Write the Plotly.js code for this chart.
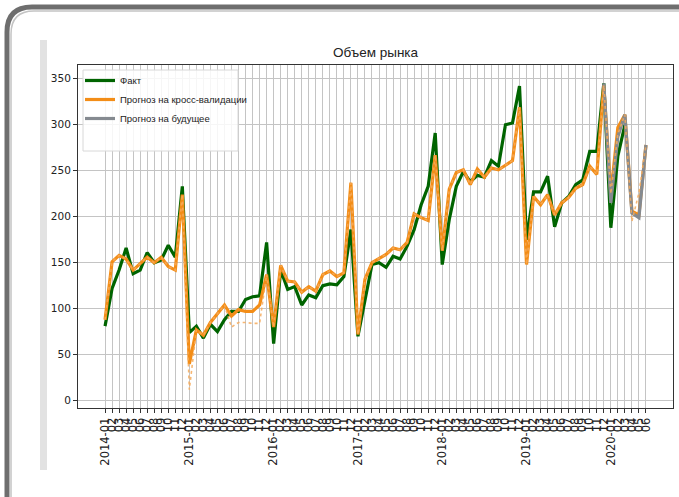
<!DOCTYPE html>
<html>
<head>
<meta charset="utf-8">
<script src="https://cdn.plot.ly/plotly-3.0.1.min.js"></script>
<style>html,body{margin:0;padding:0;background:#fff;}#chart{width:679px;height:497px;}</style>
</head>
<body>
<div id="chart"></div>
<script>
// ---- data ----
const months = [];
for (let y = 2014; y <= 2020; y++) {
  for (let m = 1; m <= 12; m++) {
    if (y === 2020 && m > 6) break;
    months.push(y + '-' + String(m).padStart(2, '0'));
  }
}
const tickLabels = months.map(s => s.endsWith('-01') ? s : s.slice(5));

const fact = [
  81, 122, 142, 166, 138, 142, 161, 150, 153, 169, 156, 233,
  74, 81, 68, 83, 75, 88, 97, 97, 110, 113, 114, 172,
  62, 142, 121, 124, 104, 115, 112, 125, 127, 126, 135, 186,
  70, 110, 148, 150, 145, 157, 154, 168, 186, 213, 233, 291,
  148, 197, 233, 249, 238, 245, 243, 261, 255, 300, 302, 342,
  175, 227, 227, 244, 189, 215, 222, 235, 240, 271, 271, 345,
  188, 266, 300
];
const crossVal = [
  88, 151, 158, 154, 142, 149, 156, 150, 156, 146, 142, 224,
  40, 77, 71, 85, 95, 104, 92, 99, 97, 97, 104, 137,
  80, 147, 130, 129, 118, 124, 119, 137, 141, 135, 139, 237,
  72, 132, 150, 155, 159, 166, 164, 172, 203, 199, 196, 267,
  163, 230, 248, 251, 235, 252, 243, 253, 251, 256, 261, 319,
  148, 222, 213, 224, 202, 215, 221, 231, 235, 255, 246, 343,
  225, 297, 311, 206, 202, 278
];
const crossValAlt = [
  88, 151, 158, 154, 142, 149, 156, 150, 156, 146, 142, 224,
  12, 77, 71, 85, 95, 104, 80, 85, 85, 84, 84, 137,
  80, 147, 130, 129, 118, 124, 119, 137, 141, 135, 139, 237,
  72, 132, 150, 155, 159, 166, 164, 172, 203, 199, 196, 267,
  163, 230, 248, 251, 235, 252, 243, 253, 251, 256, 261, 319,
  148, 222, 213, 224, 202, 215, 221, 231, 235, 255, 246, 343,
  225, 290, 311, 195, 226, 278
];
const futureStart = 71;
const future = [345, 215, 287, 311, 204, 199, 278];

const seriesNames = ['Факт', 'Прогноз на кросс-валидации', 'Прогноз на будущее'];
const yTicks = [0, 50, 100, 150, 200, 250, 300, 350];

// ---- chart ----
const FONT = '"DejaVu Sans", sans-serif';
const NARROW = '"Liberation Sans", Arial, sans-serif';
const GREEN = '#006400', ORANGE = '#f38d17', GRAY = '#858a90';

const traces = [
  { x: months.slice(0, fact.length), y: fact, type: 'scatter', mode: 'lines',
    name: seriesNames[0], line: { color: GREEN, width: 3.2 } },
  { x: months, y: crossVal, type: 'scatter', mode: 'lines',
    name: seriesNames[1], line: { color: ORANGE, width: 3.2 } },
  { x: months.slice(futureStart), y: future, type: 'scatter', mode: 'lines',
    name: seriesNames[2], line: { color: GRAY, width: 3.2 } },
  { x: months, y: crossValAlt, type: 'scatter', mode: 'lines', showlegend: false,
    hoverinfo: 'skip', line: { color: 'rgba(246,170,90,0.85)', width: 1.6, dash: 'dot' } }
];

// pixel -> paper helpers (plot area: x 78..673, y 65..408)
const L = 78, R = 673, T = 65, B = 408;
const px = v => (v - L) / (R - L);
const py = v => (B - v) / (B - T);

const shapes = [
  // legend box
  { type: 'rect', xref: 'paper', yref: 'paper', x0: px(83), x1: px(238), y0: py(151), y1: py(70),
    fillcolor: 'rgba(255,255,255,0.85)', line: { color: '#d8d8d8', width: 1 }, layer: 'above' },
  // light strip on the left (slide background)
  { type: 'rect', xref: 'paper', yref: 'paper', x0: px(40), x1: px(47), y0: py(470), y1: py(40),
    fillcolor: '#e2e2e2', line: { width: 0 }, layer: 'below' },
  // outer rounded frame
  { type: 'path', xref: 'paper', yref: 'paper', layer: 'above',
    path: `M ${px(7)},${py(505)} L ${px(7)},${py(32)} Q ${px(7)},${py(7)} ${px(32)},${py(7)} L ${px(690)},${py(7)}`,
    line: { color: '#6e6e6e', width: 5 } },
  { type: 'path', xref: 'paper', yref: 'paper', layer: 'above',
    path: `M ${px(11)},${py(505)} L ${px(11)},${py(34)} Q ${px(11)},${py(11)} ${px(34)},${py(11)} L ${px(690)},${py(11)}`,
    line: { color: '#c4c4c4', width: 1.5 } }
];

const layout = {
  width: 679, height: 497,
  margin: { l: L, r: 679 - R, t: T, b: 497 - B },
  paper_bgcolor: '#ffffff', plot_bgcolor: 'rgba(0,0,0,0)',
  font: { family: FONT, size: 10, color: '#222' },
  title: { text: 'Объем рынка', x: 0.5, xref: 'paper', xanchor: 'center',
           y: 1 - 52 / 497, yanchor: 'middle', font: { family: NARROW, size: 13.5, color: '#222' } },
  showlegend: true,
  legend: { x: px(80), xanchor: 'left', y: py(66), yanchor: 'top',
            bgcolor: 'rgba(0,0,0,0)', borderwidth: 0, font: { family: NARROW, size: 9.5, color: '#222' },
            tracegroupgap: 0 },
  xaxis: {
    type: 'category', categoryorder: 'array', categoryarray: months,
    range: [-3.85, months.length - 1 + 3.85],
    tickmode: 'array', tickvals: months, ticktext: tickLabels, tickangle: -90,
    ticks: 'outside', ticklen: 4, tickcolor: '#333', tickfont: { family: FONT, size: 11.5, color: '#222' },
    showgrid: true, gridcolor: '#c4c4c4', gridwidth: 1,
    showline: true, linecolor: '#333', linewidth: 1, mirror: true, zeroline: false
  },
  yaxis: {
    range: [-8, 365], tickmode: 'array', tickvals: yTicks,
    ticks: 'outside', ticklen: 4, tickcolor: '#333', tickfont: { family: FONT, size: 10.5, color: '#222' },
    showgrid: true, gridcolor: '#c4c4c4', gridwidth: 1,
    showline: true, linecolor: '#333', linewidth: 1, mirror: true, zeroline: false
  },
  shapes: shapes
};

Plotly.newPlot('chart', traces, layout, { displayModeBar: false, staticPlot: true });
</script>
</body>
</html>
